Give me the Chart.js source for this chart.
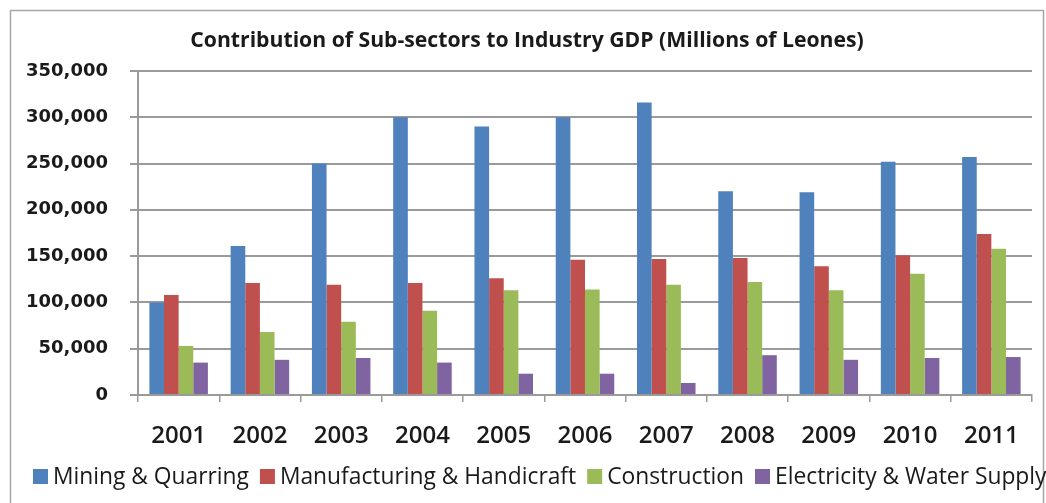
<!DOCTYPE html>
<html>
<head>
<meta charset="utf-8">
<script src="https://cdn.jsdelivr.net/npm/chart.js@4/dist/chart.umd.min.js"></script>
<style>
  html, body { margin: 0; padding: 0; background: #fff; overflow: hidden; }
  #wrap { width: 1046px; height: 503px; }
</style>
</head>
<body>
<div id="wrap"><canvas id="gdp"></canvas></div>
<script>
const years = ['2001', '2002', '2003', '2004', '2005', '2006', '2007', '2008', '2009', '2010', '2011'];
const seriesNames = ['Mining & Quarring', 'Manufacturing & Handicraft', 'Construction', 'Electricity & Water Supply'];
const mining = [100000, 161000, 250000, 300000, 290000, 300000, 316000, 220000, 219000, 252000, 257000];
const manufacturing = [108000, 121000, 119000, 121000, 126000, 146000, 147000, 148000, 139000, 151000, 174000];
const construction = [53000, 68000, 79000, 91000, 113000, 114000, 119000, 122000, 113000, 131000, 158000];
const electricity = [35000, 38000, 40000, 35000, 23000, 23000, 13000, 43000, 38000, 40000, 41000];
const yTicks = [0, 50000, 100000, 150000, 200000, 250000, 300000, 350000];

const colors = ['#4F81BD', '#C0504D', '#9BBB59', '#8064A2'];
const gridColor = '#9a9a9a';
const textColor = '#1a1a1a';

// outer frame + hand-drawn legend row along the bottom
const frameAndLegend = {
  id: 'frameAndLegend',
  beforeDraw(chart) {
    const ctx = chart.ctx;
    ctx.save();
    ctx.strokeStyle = '#a6a6a6';
    ctx.lineWidth = 1.5;
    ctx.strokeRect(10.5, 10.5, 1033, 540);
    ctx.restore();
  },
  afterDraw(chart) {
    const ctx = chart.ctx;
    const y = 476.5;
    const box = 15;
    let x = 33;
    ctx.save();
    ctx.font = '500 22.8px "Open Sans"';
    ctx.textBaseline = 'middle';
    chart.data.datasets.forEach((ds) => {
      ctx.fillStyle = ds.backgroundColor;
      ctx.fillRect(x, y - box / 2, box, box);
      x += box + 5;
      ctx.fillStyle = textColor;
      ctx.fillText(ds.label, x, y + 1);
      x += ctx.measureText(ds.label).width + 11;
    });
    ctx.restore();
  }
};

const data = {
  labels: years,
  datasets: [mining, manufacturing, construction, electricity].map((values, i) => ({
    label: seriesNames[i],
    data: values,
    backgroundColor: colors[i],
    borderWidth: 0,
    barPercentage: 1,
    categoryPercentage: 0.72,
  })),
};

new Chart(document.getElementById('gdp'), {
  type: 'bar',
  data,
  plugins: [frameAndLegend],
  options: {
    responsive: true,
    maintainAspectRatio: false,
    animation: false,
    layout: {
      padding: { left: 22, right: 14, top: 0, bottom: 52 },
    },
    plugins: {
      legend: { display: false },
      tooltip: { enabled: false },
      title: {
        display: true,
        text: 'Contribution of Sub-sectors to Industry GDP (Millions of Leones)',
        color: textColor,
        font: { family: '"Open Sans"', size: 21.2, weight: '700' },
        padding: { top: 28.5, bottom: 17 },
      },
    },
    scales: {
      x: {
        grid: {
          display: true,
          offset: true,
          drawOnChartArea: false,
          drawTicks: true,
          tickLength: 7,
          color: gridColor,
          lineWidth: 1.5,
        },
        border: { display: true, color: gridColor, width: 2 },
        ticks: {
          color: textColor,
          padding: 20,
          font: { family: '"Open Sans"', size: 24, weight: '600' },
        },
        afterFit(scale) { scale.height = 56; },
      },
      y: {
        min: 0,
        max: 350000,
        afterBuildTicks(scale) { scale.ticks = yTicks.map((v) => ({ value: v })); },
        grid: {
          color: gridColor,
          lineWidth: 2,
          tickLength: 8,
        },
        border: { display: true, color: gridColor, width: 2 },
        ticks: {
          color: textColor,
          padding: 22,
          font: { family: '"DejaVu Sans"', size: 18, weight: 'bold' },
          callback: (v) => v.toLocaleString('en-US'),
        },
        afterFit(scale) { scale.width = 116; },
      },
    },
  },
});
</script>
</body>
</html>
